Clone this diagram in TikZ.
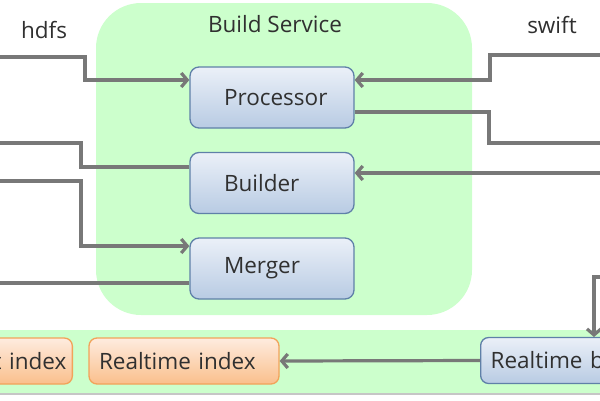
\documentclass[tikz,border=0pt]{standalone}
\usepackage{fontspec}
\setmainfont{Open Sans}
\usetikzlibrary{arrows.meta}
\definecolor{bsgreen}{HTML}{CCFFCC}
\definecolor{boxtop}{HTML}{EBF0F8}
\definecolor{boxbot}{HTML}{B8CBE3}
\definecolor{boxline}{HTML}{5F80A8}
\definecolor{idxtop}{HTML}{FEECDF}
\definecolor{idxbot}{HTML}{FABF8C}
\definecolor{idxline}{HTML}{F2A35A}
\definecolor{flowgray}{HTML}{787878}
\definecolor{txtgray}{HTML}{303030}
\tikzset{
  bigfont/.style={font=\fontsize{22.5}{26}\selectfont},
  module/.style={draw=boxline, line width=1.3pt, rounded corners=9pt,
    top color=boxtop, bottom color=boxbot, text=txtgray, bigfont,
    minimum width=164pt, minimum height=61pt, text width=96pt, align=left},
  index/.style={draw=idxline, line width=1.3pt, rounded corners=8pt,
    top color=idxtop, bottom color=idxbot, text=txtgray, bigfont,
    minimum height=46pt, inner xsep=10pt},
  flow/.style={draw=flowgray, line width=3.2pt},
  tip/.style={-{Straight Barb[length=6pt,width=14pt]}},
  caption/.style={text=txtgray, bigfont}
}
\begin{document}
\begin{tikzpicture}[x=1pt,y=-1pt]
  \useasboundingbox (0,0) rectangle (600,400);
  \clip (0,0) rectangle (600,400);
  % green areas
  \fill[bsgreen, rounded corners=45pt] (96,3) rectangle (472,315);
  \fill[bsgreen] (-10,330) rectangle (610,394);
  \draw[gray!45, line width=1.5pt] (-10,394) -- (610,394);
  % labels
  \node[caption] (bstitle) at (275,24) {Build Service};
  \node[caption] (hdfs) at (44,30) {hdfs};
  \node[caption] (swift) at (552,25) {swift};
  % modules
  \node[module] (proc) at (272,97.5) {\mbox{Processor}};
  \node[module] (build) at (272,183) {\mbox{Builder}};
  \node[module] (merge) at (272,268.5) {\mbox{Merger}};
  % index row
  \node[index, anchor=east, text width=181pt, inner xsep=6pt, align=right] (oldidx) at (73,361) {t index};
  \node[index, text width=170pt, align=left] (rtidx) at (184,361) {Realtime index};
  \node[index, draw=boxline, top color=boxtop, bottom color=boxbot, anchor=west,
    text width=180pt, align=left] (rtbuild) at (480,360.5) {Realtime b};
  % free ends
  \coordinate (hdfsin) at (-10,57);
  \coordinate (buildout) at (-10,143);
  \coordinate (mergein) at (-10,181);
  \coordinate (mergeout) at (-10,283);
  \coordinate (swiftin) at (610,55);
  \coordinate (procout) at (610,143);
  \coordinate (buildin) at (610,173);
  \coordinate (rtin) at (610,277);
  % connectors
  \draw[flow, tip] (hdfsin) -- (85,57) |- ([yshift=17.5pt]proc.west);
  \draw[flow, tip] ([yshift=16pt]build.west) -| (81,143) -- (buildout);
  \draw[flow, tip] (mergein) -- (81,181) |- ([yshift=22.5pt]merge.west);
  \draw[flow, tip] ([yshift=-14.5pt]merge.west) -- (mergeout);
  \draw[flow, tip] (swiftin) -- (490,55) |- ([yshift=17.5pt]proc.east);
  \draw[flow, tip] ([yshift=-14.5pt]proc.east) -| (489,143) -- (procout);
  \draw[flow, tip] (buildin) -- ([yshift=10pt]build.east);
  \draw[flow, tip] (rtin) -- (594,277) -- (594,337);
  \draw[flow, tip] (rtbuild.west) -- (rtidx.east);
\end{tikzpicture}
\end{document}
